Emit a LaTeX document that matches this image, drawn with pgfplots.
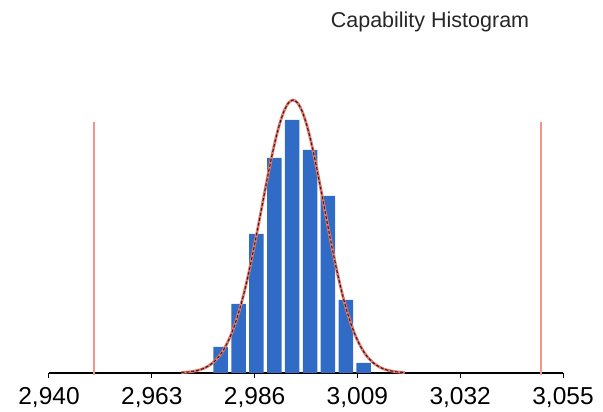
\documentclass[border=0pt]{standalone}
\usepackage{fontspec}
\setmainfont{Liberation Sans}
\usepackage{pgfplots}
\pgfplotsset{compat=1.18}
\definecolor{barblue}{RGB}{48,108,198}
\definecolor{specred}{RGB}{242,150,140}
\definecolor{curvered}{RGB}{238,120,108}
\begin{document}
\begin{tikzpicture}[x=1pt,y=1pt]
\begin{axis}[
  at={(49pt,39pt)}, anchor=origin,
  scale only axis,
  width=514pt, height=313pt,
  xmin=2940, xmax=3055,
  ymin=0, ymax=313,
  axis x line*=bottom,
  axis y line=none,
  axis line style={black, line width=1.2pt},
  xtick={2940,2963,2986,3009,3032,3055},
  xticklabels={{2,940},{2,963},{2,986},{3,009},{3,032},{3,055}},
  xticklabel style={font=\fontsize{24.5}{28}\selectfont, yshift=-6pt},
  tick align=outside,
  major tick length=5pt,
  tick style={black, line width=1pt},
  clip=false,
]
\addplot[specred, line width=1.8pt] coordinates {(2950,-2) (2950,251)};
\addplot[specred, line width=1.8pt] coordinates {(3050,-2) (3050,251)};
\addplot[ybar, bar width=14.5pt, fill=barblue, draw=none] coordinates {
(2978.4,26) (2982.4,69) (2986.4,139) (2990.4,215) (2994.4,253)
(2998.4,223) (3002.4,177) (3006.4,73) (3010.4,10)};
\addplot[curvered, line width=2.8pt, smooth] coordinates {
(2969.6,0.5) (2970.6,0.8) (2971.6,1.2) (2972.6,2.0) (2973.6,3.0) (2974.6,4.6)
(2975.6,6.9) (2976.6,10.0) (2977.6,14.3) (2978.6,20.0) (2979.6,27.5) (2980.6,36.9)
(2981.6,48.7) (2982.6,62.8) (2983.6,79.4) (2984.6,98.4) (2985.6,119.5) (2986.6,142.1)
(2987.6,165.6) (2988.6,189.1) (2989.6,211.5) (2990.6,231.9) (2991.6,249.1) (2992.6,262.1)
(2993.6,270.2) (2994.6,273) (2995.6,270.2) (2996.6,262.1) (2997.6,249.1) (2998.6,231.9)
(2999.6,211.5) (3000.6,189.1) (3001.6,165.6) (3002.6,142.1) (3003.6,119.5) (3004.6,98.4)
(3005.6,79.4) (3006.6,62.8) (3007.6,48.7) (3008.6,36.9) (3009.6,27.5) (3010.6,20.0)
(3011.6,14.3) (3012.6,10.0) (3013.6,6.9) (3014.6,4.6) (3015.6,3.0) (3016.6,2.0)
(3017.6,1.2) (3018.6,0.8) (3019.6,0.5)};
\addplot[black!85, line width=1.1pt, dash pattern=on 3pt off 2pt, smooth] coordinates {
(2969.6,0.5) (2970.6,0.8) (2971.6,1.2) (2972.6,2.0) (2973.6,3.0) (2974.6,4.6)
(2975.6,6.9) (2976.6,10.0) (2977.6,14.3) (2978.6,20.0) (2979.6,27.5) (2980.6,36.9)
(2981.6,48.7) (2982.6,62.8) (2983.6,79.4) (2984.6,98.4) (2985.6,119.5) (2986.6,142.1)
(2987.6,165.6) (2988.6,189.1) (2989.6,211.5) (2990.6,231.9) (2991.6,249.1) (2992.6,262.1)
(2993.6,270.2) (2994.6,273) (2995.6,270.2) (2996.6,262.1) (2997.6,249.1) (2998.6,231.9)
(2999.6,211.5) (3000.6,189.1) (3001.6,165.6) (3002.6,142.1) (3003.6,119.5) (3004.6,98.4)
(3005.6,79.4) (3006.6,62.8) (3007.6,48.7) (3008.6,36.9) (3009.6,27.5) (3010.6,20.0)
(3011.6,14.3) (3012.6,10.0) (3013.6,6.9) (3014.6,4.6) (3015.6,3.0) (3016.6,2.0)
(3017.6,1.2) (3018.6,0.8) (3019.6,0.5)};
\end{axis}
\node[font=\fontsize{21.5}{25}\selectfont, text=black!85] at (430pt,390pt) {Capability Histogram};
\pgfresetboundingbox
\useasboundingbox (0,0) rectangle (603pt,412pt);
\end{tikzpicture}
\end{document}
